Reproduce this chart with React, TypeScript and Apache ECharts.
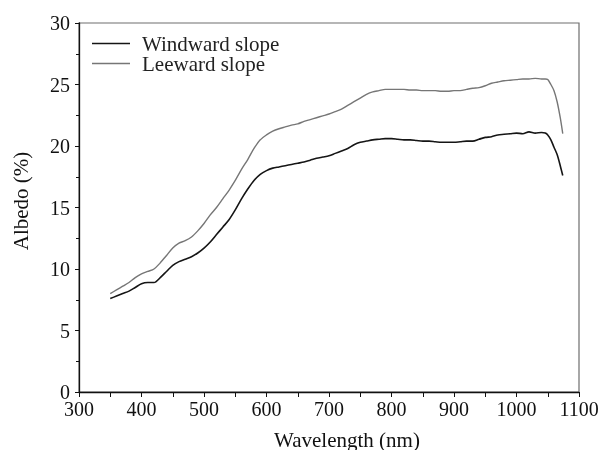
import React, { useEffect, useRef } from "react";
import * as echarts from "echarts";

const wavelengths = [
  350, 360, 370, 380, 390, 400, 410, 420, 430, 440, 450, 460, 470, 480, 490,
  500, 510, 520, 530, 540, 550, 560, 570, 580, 590, 600, 610, 620, 630, 640,
  650, 660, 670, 680, 690, 700, 710, 720, 730, 740, 750, 760, 770, 780, 790,
  800, 810, 820, 830, 840, 850, 860, 870, 880, 890, 900, 910, 920, 930, 940,
  950, 960, 970, 980, 990, 1000, 1010, 1020, 1030, 1040, 1046, 1050, 1055,
  1060, 1065, 1070, 1074,
];

const windward = [
  7.6, 7.8, 8.0, 8.2, 8.5, 8.8, 8.9, 8.9, 9.3, 9.8, 10.3, 10.6, 10.8, 11.0,
  11.3, 11.7, 12.2, 12.8, 13.4, 14.0, 14.8, 15.7, 16.5, 17.2, 17.7, 18.0,
  18.2, 18.3, 18.4, 18.5, 18.6, 18.7, 18.85, 19.0, 19.1, 19.2, 19.4, 19.6,
  19.8, 20.1, 20.3, 20.4, 20.5, 20.55, 20.6, 20.6, 20.55, 20.5, 20.5, 20.45,
  20.4, 20.4, 20.35, 20.3, 20.3, 20.3, 20.35, 20.4, 20.4, 20.55, 20.7, 20.75,
  20.9, 20.95, 21.0, 21.05, 21.0, 21.15, 21.05, 21.1, 21.05, 20.9, 20.5,
  19.9, 19.3, 18.4, 17.6,
];

const leeward = [
  8.0, 8.3, 8.6, 8.9, 9.3, 9.6, 9.8, 10.0, 10.5, 11.1, 11.7, 12.1, 12.3, 12.6,
  13.1, 13.7, 14.4, 15.0, 15.7, 16.4, 17.2, 18.1, 18.9, 19.8, 20.5, 20.9,
  21.2, 21.4, 21.55, 21.7, 21.8, 22.0, 22.15, 22.3, 22.45, 22.6, 22.8, 23.0,
  23.3, 23.6, 23.9, 24.2, 24.4, 24.5, 24.6, 24.6, 24.6, 24.6, 24.55, 24.55,
  24.5, 24.5, 24.5, 24.45, 24.45, 24.5, 24.5, 24.6, 24.7, 24.75, 24.9, 25.1,
  25.2, 25.3, 25.35, 25.4, 25.45, 25.45, 25.5, 25.45, 25.45, 25.4, 25.0,
  24.5, 23.6, 22.3, 21.0,
];

const seriesNames = ["Windward slope", "Leeward slope"];

const FONT = "Liberation Serif";

export default function App() {
  const ref = useRef<HTMLDivElement>(null);

  useEffect(() => {
    if (!ref.current) return;
    const chart = echarts.init(ref.current, undefined, { renderer: "svg" });
    const pair = (ys: number[]) => wavelengths.map((x, i) => [x, ys[i]]);
    chart.setOption({
      animation: false,
      textStyle: { fontFamily: FONT },
      grid: {
        left: 79,
        right: 25,
        top: 23,
        bottom: 58,
        show: true,
        borderColor: "#6e6e6e",
        borderWidth: 1.2,
      },
      legend: {
        orient: "vertical",
        left: 87,
        top: 28,
        icon: "rect",
        itemWidth: 38,
        itemHeight: 1.6,
        itemGap: -1,
        data: seriesNames,
        textStyle: {
          fontFamily: FONT,
          fontSize: 21,
          lineHeight: 19,
          color: "#222",
          padding: [0, 0, 0, 7],
        },
      },
      xAxis: {
        type: "value",
        min: 300,
        max: 1100,
        interval: 100,
        axisLine: { show: true, lineStyle: { color: "#111", width: 1.3 } },
        axisTick: { show: true, inside: false, length: 5, lineStyle: { color: "#111" } },
        minorTick: { show: true, splitNumber: 2, length: 5, lineStyle: { color: "#111" } },
        splitLine: { show: false },
        axisLabel: {
          fontFamily: FONT,
          fontSize: 20,
          color: "#111",
          margin: 7,
          formatter: (v: number) => String(v),
        },
      },
      yAxis: {
        type: "value",
        min: 0,
        max: 30,
        interval: 5,
        axisLine: { show: true, lineStyle: { color: "#111", width: 1.3 } },
        axisTick: { show: true, inside: false, length: 4, lineStyle: { color: "#111" } },
        minorTick: { show: true, splitNumber: 2, length: 3, lineStyle: { color: "#111" } },
        splitLine: { show: false },
        axisLabel: {
          fontFamily: FONT,
          fontSize: 20,
          color: "#111",
          margin: 9,
          formatter: (v: number) => String(v),
        },
      },
      graphic: [
        {
          type: "text",
          x: 347,
          y: 429,
          style: {
            text: "Wavelength (nm)",
            fontFamily: FONT,
            fontSize: 21,
            fill: "#111",
            align: "center",
          },
        },
        {
          type: "text",
          x: 10,
          y: 201,
          rotation: Math.PI / 2,
          style: {
            text: "Albedo (%)",
            fontFamily: FONT,
            fontSize: 21,
            fill: "#111",
            align: "center",
          },
        },
      ],
      series: [
        {
          name: seriesNames[0],
          type: "line",
          data: pair(windward),
          symbol: "none",
          smooth: 0.3,
          lineStyle: { color: "#151515", width: 1.6 },
          itemStyle: { color: "#151515" },
        },
        {
          name: seriesNames[1],
          type: "line",
          data: pair(leeward),
          symbol: "none",
          smooth: 0.3,
          lineStyle: { color: "#767676", width: 1.4 },
          itemStyle: { color: "#767676" },
        },
      ],
    });
    return () => chart.dispose();
  }, []);

  return (
    <div
      ref={ref}
      style={{ position: "fixed", left: 0, top: 0, width: 604, height: 450 }}
    />
  );
}
